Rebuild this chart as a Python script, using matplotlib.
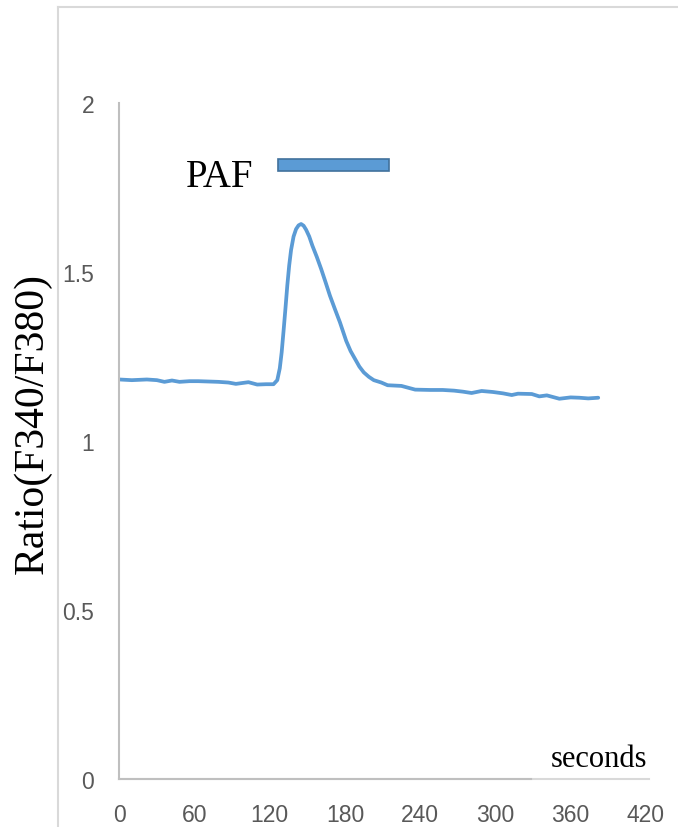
import matplotlib
matplotlib.use('Agg')
import matplotlib.pyplot as plt
from matplotlib.patches import Rectangle
from matplotlib.lines import Line2D

# ratio trace
seconds = [0, 10, 22, 30, 36, 42, 48, 56, 63, 71, 79, 87, 93, 99, 103, 110, 117, 123,
           126, 128, 129.5, 131, 132.5, 134, 135.5, 137, 139, 141, 143, 145, 147, 149,
           151.5, 154, 157.5, 161, 164.5, 168, 172, 176, 181, 184.5, 188, 191.5, 195,
           199, 203, 209, 214, 225, 236, 248, 258, 267, 274, 281, 289, 298, 306, 313,
           318, 329, 335, 341, 351, 360, 367, 374, 382]
ratio = [1.182, 1.180, 1.182, 1.180, 1.175, 1.179, 1.175, 1.177, 1.177, 1.176, 1.175,
         1.173, 1.169, 1.172, 1.174, 1.167, 1.168, 1.168, 1.180, 1.215, 1.262, 1.325,
         1.391, 1.460, 1.519, 1.565, 1.605, 1.627, 1.638, 1.642, 1.637, 1.625, 1.605,
         1.578, 1.545, 1.509, 1.470, 1.430, 1.390, 1.351, 1.296, 1.266, 1.243, 1.220,
         1.203, 1.190, 1.180, 1.173, 1.165, 1.163, 1.152, 1.151, 1.151, 1.149, 1.146,
         1.142, 1.148, 1.145, 1.141, 1.136, 1.140, 1.139, 1.132, 1.135, 1.125, 1.129,
         1.128, 1.126, 1.128]

x_ticks = [0, 60, 120, 180, 240, 300, 360, 420]
y_ticks = [0, 0.5, 1, 1.5, 2]
y_tick_labels = ['0', '0.5', '1', '1.5', '2']

paf_start, paf_end = 126.5, 215
paf_low, paf_high = 1.80, 1.834

W, H = 678, 828
fig = plt.figure(figsize=(W / 100, H / 100), dpi=100)
ax = fig.add_axes([119.3 / W, (H - 780) / H, (649 - 119.3) / W, (780 - 104) / H])

ax.plot(seconds, ratio, color='#5b9bd5', lw=2.7, solid_capstyle='round',
        solid_joinstyle='round')

ax.set_xlim(0, 422.5)
ax.set_ylim(0, 2)
ax.set_xticks(x_ticks)
ax.set_yticks(y_ticks)
ax.set_yticklabels(y_tick_labels)
ax.tick_params(length=0, labelsize=16.5, labelcolor='#595959')
ax.tick_params(axis='y', pad=18)
ax.tick_params(axis='x', pad=17)
for lab in ax.get_xticklabels() + ax.get_yticklabels():
    lab.set_family(['Liberation Sans', 'DejaVu Sans'])

for s in ['top', 'right']:
    ax.spines[s].set_visible(False)
ax.spines['left'].set_color('#bfbfbf')
ax.spines['left'].set_linewidth(1.5)
ax.spines['bottom'].set_color('#d9d9d9')
ax.spines['bottom'].set_linewidth(1.5)
# darker part of the base line
ax.plot([0, 328], [0, 0], color='#bfbfbf', lw=1.5, clip_on=False, zorder=3)

# PAF application bar
ax.add_patch(Rectangle((paf_start, paf_low), paf_end - paf_start, paf_high - paf_low,
                       facecolor='#5b9bd5', edgecolor='#41719c', lw=1.2, clip_on=False))
ax.text(53, 1.754, 'PAF', fontsize=28, family='Liberation Serif', ha='left', va='baseline')
ax.text(421, 0.0385, 'seconds', fontsize=22, family='Liberation Serif',
        ha='right', va='baseline', clip_on=False)

fig.text(33 / W, 1 - 423 / H, 'Ratio(F340/F380)', rotation=90, fontsize=30,
         family='Liberation Serif', ha='center', va='center')

# outer chart frame
fig.add_artist(Line2D([58 / W, 58 / W], [0, 1 - 8 / H], color='#d9d9d9', lw=1.5))
fig.add_artist(Line2D([58 / W, 1], [1 - 8 / H, 1 - 8 / H], color='#d9d9d9', lw=1.5))

fig.savefig('out.png', dpi=100)
